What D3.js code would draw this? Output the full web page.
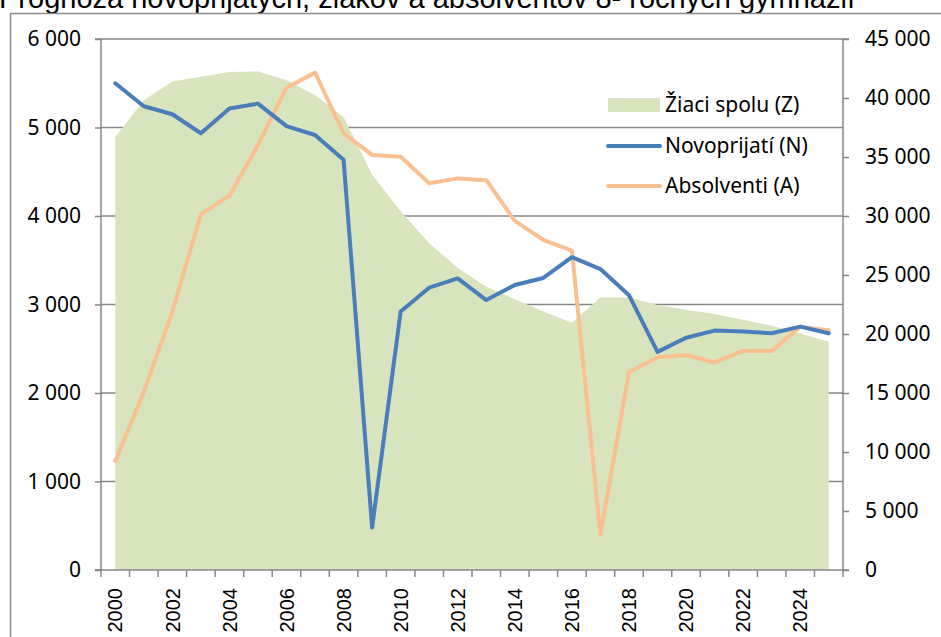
<!DOCTYPE html>
<html>
<head>
<meta charset="utf-8">
<script src="https://cdn.jsdelivr.net/npm/d3@7"></script>
<style>
  body { margin: 0; background: #fff; }
  svg { display: block; }
</style>
</head>
<body>
<svg id="chart" width="941" height="637"></svg>
<script>
// data
const years = d3.range(2000, 2026).map(String);
const novoprijati = [5500, 5240, 5150, 4935, 5215, 5270, 5015, 4915, 4635, 480, 2920, 3190, 3295, 3050, 3220, 3300, 3535, 3400, 3105, 2465, 2625, 2705, 2695, 2675, 2750, 2675];
const absolventi = [1230, 2010, 2920, 4020, 4230, 4800, 5450, 5620, 4935, 4690, 4670, 4370, 4425, 4405, 3945, 3730, 3610, 400, 2235, 2405, 2430, 2345, 2475, 2475, 2750, 2710];
const ziaci = [36700, 39800, 41400, 41800, 42200, 42250, 41500, 40250, 38400, 33500, 30400, 27700, 25600, 24000, 22950, 21900, 20950, 23100, 23100, 22450, 22050, 21700, 21200, 20700, 20050, 19350];
const leftTicks = [0, 1000, 2000, 3000, 4000, 5000, 6000];
const rightTicks = [0, 5000, 10000, 15000, 20000, 25000, 30000, 35000, 40000, 45000];
const legendItems = ["Žiaci spolu (Z)", "Novoprijatí (N)", "Absolventi (A)"];
const title = "Prognóza novoprijatých, žiakov a absolventov 8- ročných gymnázií";

const svg = d3.select("#chart");
const pLeft = 101, pRight = 843, pTop = 39, pBottom = 570;
const gray = "#868686";
const fmt = (d) => d3.format(",")(d).replace(/,/g, " ");

const x = d3.scaleBand().domain(years).range([pLeft, pRight]).padding(0);
const cx = (d) => x(d) + x.bandwidth() / 2;
const yL = d3.scaleLinear().domain([0, 6000]).range([pBottom, pTop]);
const yR = d3.scaleLinear().domain([0, 45000]).range([pBottom, pTop]);

// title (partly cut at top, like the original)
svg.append("text")
  .attr("x", -1)
  .attr("y", 8)
  .style("font-family", "'Liberation Sans', Arial, sans-serif")
  .style("font-size", "29px")
  .attr("fill", "#000")
  .text(title);

// outer frame
svg.append("path")
  .attr("d", "M10.5,640 V13.5 H950")
  .attr("fill", "none")
  .attr("stroke", "#8c8c8c")
  .attr("stroke-width", 1.5);

// gridlines
svg.append("g")
  .selectAll("line")
  .data(leftTicks.filter((d) => d > 0))
  .join("line")
  .attr("x1", pLeft)
  .attr("x2", pRight)
  .attr("y1", (d) => yL(d))
  .attr("y2", (d) => yL(d))
  .attr("stroke", gray)
  .attr("stroke-width", 1.5);

// area (right axis)
svg.append("path")
  .datum(ziaci)
  .attr("fill", "#d7e4bd")
  .attr("d", d3.area()
    .x((d, i) => cx(years[i]))
    .y0(yR(0))
    .y1((d) => yR(d)));

// lines (left axis)
const line = d3.line()
  .x((d, i) => cx(years[i]))
  .y((d) => yL(d));

svg.append("path")
  .datum(absolventi)
  .attr("fill", "none")
  .attr("stroke", "#fac090")
  .attr("stroke-width", 4)
  .attr("stroke-linejoin", "round")
  .attr("stroke-linecap", "round")
  .attr("d", line);

svg.append("path")
  .datum(novoprijati)
  .attr("fill", "none")
  .attr("stroke", "#4a7ebb")
  .attr("stroke-width", 4)
  .attr("stroke-linejoin", "round")
  .attr("stroke-linecap", "round")
  .attr("d", line);

// axes
const tickFont = "'Noto Sans', sans-serif";

const gLeft = svg.append("g")
  .attr("transform", `translate(${pLeft},0)`)
  .call(d3.axisLeft(yL).tickValues(leftTicks).tickFormat(fmt).tickSize(6).tickPadding(14));

const gRight = svg.append("g")
  .attr("transform", `translate(${pRight},0)`)
  .call(d3.axisRight(yR).tickValues(rightTicks).tickFormat(fmt).tickSize(6).tickPadding(16));

[gLeft, gRight].forEach((g) => {
  g.select(".domain").attr("stroke", gray).attr("stroke-width", 1.5);
  g.selectAll(".tick line").attr("stroke", gray).attr("stroke-width", 1.5);
  g.selectAll(".tick text")
    .style("font-family", tickFont)
    .style("font-size", "21px")
    .attr("fill", "#000");
});
gLeft.select(".domain").attr("d", `M-6,${pTop}H0V${pBottom}H-6`);
gRight.select(".domain").attr("d", `M6,${pTop}H0V${pBottom}H6`);

// x axis
const gx = svg.append("g");
gx.append("line")
  .attr("x1", pLeft - 6)
  .attr("x2", pRight)
  .attr("y1", pBottom)
  .attr("y2", pBottom)
  .attr("stroke", gray)
  .attr("stroke-width", 1.5);
gx.selectAll(".xt")
  .data(years.concat(["end"]))
  .join("line")
  .attr("class", "xt")
  .attr("x1", (d, i) => (i < years.length ? x(d) : pRight))
  .attr("x2", (d, i) => (i < years.length ? x(d) : pRight))
  .attr("y1", pBottom)
  .attr("y2", pBottom + 7)
  .attr("stroke", gray)
  .attr("stroke-width", 1.5);
gx.selectAll("text")
  .data(years.filter((d, i) => i % 2 === 0))
  .join("text")
  .attr("transform", (d) => `translate(${cx(d)},${pBottom + 18}) rotate(-90)`)
  .attr("text-anchor", "end")
  .attr("dy", "0.36em")
  .style("font-family", "'Liberation Sans', Arial, sans-serif")
  .style("font-size", "20px")
  .attr("fill", "#000")
  .text((d) => d);

// legend
const lg = svg.append("g");
const lx = 608, ly = [105, 146, 186];
lg.append("rect")
  .attr("x", lx)
  .attr("y", ly[0] - 7)
  .attr("width", 52)
  .attr("height", 14)
  .attr("fill", "#d7e4bd");
lg.append("line")
  .attr("x1", lx).attr("x2", lx + 52)
  .attr("y1", ly[1]).attr("y2", ly[1])
  .attr("stroke", "#4a7ebb").attr("stroke-width", 4).attr("stroke-linecap", "round");
lg.append("line")
  .attr("x1", lx).attr("x2", lx + 52)
  .attr("y1", ly[2]).attr("y2", ly[2])
  .attr("stroke", "#fac090").attr("stroke-width", 4).attr("stroke-linecap", "round");
lg.selectAll("text")
  .data(legendItems)
  .join("text")
  .attr("x", lx + 57)
  .attr("y", (d, i) => ly[i])
  .attr("dy", "0.35em")
  .style("font-family", tickFont)
  .style("font-size", "21px")
  .attr("fill", "#000")
  .text((d) => d);
</script>
</body>
</html>
